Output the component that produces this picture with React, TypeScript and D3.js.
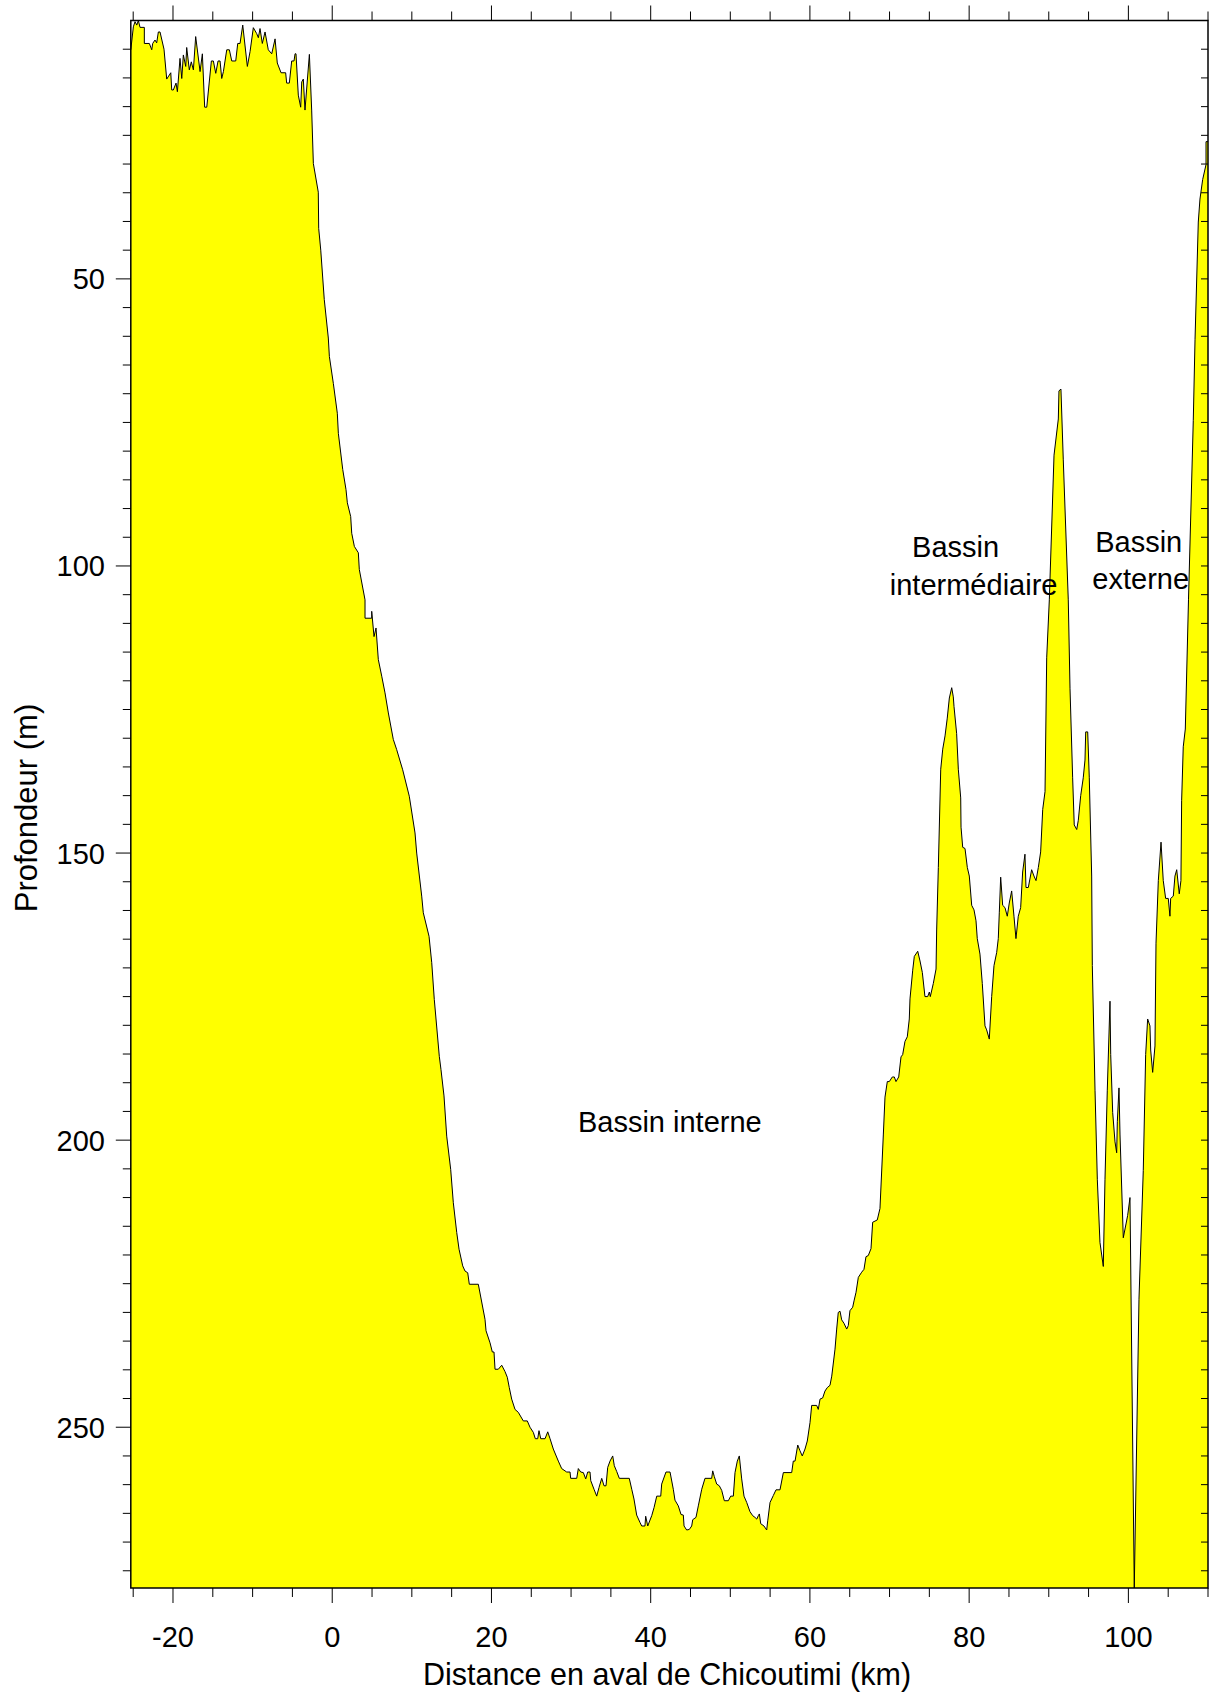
import React from "react";
import * as d3 from "d3";

// Depth profile of the Saguenay fjord: distance (km) downstream of Chicoutimi and depth (m)
const profileKm: number[] = [
  -25.3, -24.98, -24.77, -24.55, -24.35, -24.14, -23.6, -23.6, -22.97, -22.67,
  -22.55, -22.26, -22.05, -21.84, -21.63, -21.13, -20.79, -20.28, -20.16, -19.96,
  -19.62, -19.45, -19.12, -18.9, -18.7, -18.4, -18.28, -17.95, -17.7, -17.44,
  -17.15, -16.6, -16.31, -16.02, -15.76, -15.18, -14.93, -14.63, -14.34, -14.09,
  -13.88, -13.67, -13.25, -12.92, -12.62, -12.12, -11.87, -11.58, -11.24, -10.66,
  -10.32, -9.91, -9.48, -9.28, -9.07, -8.78, -8.44, -8.03, -7.6, -7.18,
  -6.9, -6.43, -5.85, -5.72, -5.39, -5.09, -4.8, -4.67, -4.55, -4.26,
  -3.96, -3.83, -3.63, -3.42, -2.87, -2.58, -2.37, -1.75, -1.7, -1.44,
  -1.0, -0.49, -0.36, 0.14, 0.64, 0.77, 1.32, 1.73, 1.9, 2.32,
  2.45, 2.78, 3.28, 3.4, 4.12, 4.12, 4.96, 4.96, 5.25, 5.5,
  5.79, 6.22, 6.63, 7.05, 7.67, 8.1, 8.85, 9.68, 10.4, 10.61,
  11.24, 11.44, 12.16, 12.5, 12.82, 13.45, 13.66, 14.04, 14.38, 14.88,
  15.21, 15.64, 15.93, 16.39, 16.68, 17.02, 17.22, 18.35, 19.19, 19.32,
  19.82, 20.11, 20.32, 20.45, 20.86, 21.29, 21.7, 21.99, 22.24, 22.54,
  22.96, 23.37, 24.0, 24.5, 24.84, 25.26, 25.51, 25.81, 25.97, 26.19,
  26.73, 27.07, 27.36, 27.77, 28.4, 28.82, 29.45, 29.87, 29.95, 30.71,
  30.91, 31.21, 31.54, 31.84, 32.09, 32.38, 32.47, 32.88, 33.22, 33.51,
  33.85, 34.14, 34.39, 34.6, 34.89, 35.23, 35.43, 35.73, 36.06, 37.31,
  37.62, 37.9, 38.24, 38.66, 38.87, 39.28, 39.37, 39.63, 40.13, 40.42,
  40.76, 41.26, 41.38, 41.92, 42.43, 42.84, 43.05, 43.47, 43.81, 44.1,
  44.19, 44.52, 44.85, 45.15, 45.28, 45.69, 45.98, 46.41, 46.82, 47.66,
  47.79, 47.99, 48.29, 48.62, 48.92, 49.25, 49.75, 50.05, 50.38, 50.59,
  50.88, 51.13, 51.43, 51.72, 52.06, 52.47, 52.81, 53.1, 53.32, 53.52,
  53.65, 53.82, 54.23, 54.57, 54.7, 54.99, 55.4, 55.74, 56.24, 56.66,
  57.71, 57.91, 58.13, 58.47, 58.75, 59.04, 59.38, 59.67, 60.01, 60.22,
  60.85, 61.05, 61.27, 61.6, 61.89, 62.18, 62.52, 62.74, 63.15, 63.36,
  63.56, 63.78, 63.99, 64.28, 64.62, 64.82, 65.03, 65.37, 65.54, 65.79,
  66.08, 66.5, 66.79, 67.04, 67.33, 67.67, 67.88, 68.46, 68.8, 69.22,
  69.43, 69.72, 69.97, 70.35, 70.6, 70.81, 71.15, 71.44, 71.65, 71.94,
  72.23, 72.48, 72.57, 72.91, 73.11, 73.54, 73.83, 74.12, 74.45, 74.79,
  75.0, 75.12, 75.5, 75.84, 75.92, 76.13, 76.43, 76.68, 76.97, 77.25,
  77.51, 77.81, 78.01, 78.1, 78.43, 78.64, 78.94, 78.98, 79.19, 79.48,
  79.77, 80.02, 80.32, 80.61, 80.86, 81.02, 81.36, 81.65, 81.99, 82.2,
  82.53, 82.83, 83.12, 83.46, 83.66, 83.79, 83.96, 84.21, 84.5, 84.79,
  85.04, 85.34, 85.63, 85.88, 86.17, 86.47, 86.72, 87.01, 87.14, 87.43,
  87.85, 88.14, 88.4, 88.69, 88.98, 89.24, 89.53, 89.74, 90.07, 90.66,
  91.2, 91.28, 91.53, 91.82, 92.45, 92.67, 93.0, 93.2, 93.51, 93.71,
  94.01, 94.33, 94.55, 94.64, 94.89, 95.09, 95.39, 95.47, 95.81, 96.1,
  96.43, 96.85, 97.06, 97.35, 97.69, 97.78, 98.03, 98.32, 98.53, 98.61,
  98.82, 98.95, 99.36, 99.7, 99.91, 100.2, 100.74, 101.33, 101.87, 102.17,
  102.42, 102.71, 102.8, 103.05, 103.34, 103.47, 103.76, 104.1, 104.38, 104.68,
  105.01, 105.22, 105.31, 105.64, 105.85, 106.07, 106.39, 106.6, 106.69, 106.89,
  107.15, 107.55, 108.15, 108.37, 108.78, 108.99, 109.33, 109.75, 109.75, 110.0,
];

const profileDepth: number[] = [
  10.1, 6.1, 5.2, 5.8, 5.0, 6.2, 6.2, 9.0, 9.0, 10.1,
  9.0, 8.4, 8.9, 7.0, 7.0, 10.0, 15.2, 14.1, 17.1, 17.1,
  15.9, 17.4, 11.6, 15.1, 11.0, 13.0, 9.7, 13.6, 12.2, 13.6,
  7.8, 13.9, 10.8, 20.1, 20.1, 12.05, 12.05, 14.2, 12.05, 12.05,
  15.1, 13.9, 10.1, 10.1, 12.05, 12.05, 9.0, 9.0, 5.8, 13.0,
  10.4, 6.25, 7.3, 8.0, 6.4, 9.0, 7.0, 10.1, 10.8, 8.2,
  12.4, 14.1, 14.1, 15.9, 15.9, 12.05, 12.05, 10.8, 10.8, 18.0,
  20.1, 15.7, 15.2, 20.6, 10.9, 20.6, 29.9, 34.9, 41.2, 45.0,
  53.6, 60.3, 63.5, 68.2, 73.4, 76.9, 83.2, 86.7, 89.0, 91.4,
  94.3, 96.6, 97.7, 100.6, 105.9, 109.1, 109.1, 107.9, 112.3, 110.8,
  116.3, 119.2, 122.1, 125.6, 130.2, 132.0, 135.5, 140.1, 146.5, 150.0,
  157.5, 160.4, 164.5, 169.1, 175.5, 185.4, 187.7, 192.3, 199.3, 205.1,
  210.9, 216.1, 219.0, 221.9, 222.8, 223.1, 225.1, 225.1, 231.2, 233.2,
  235.3, 236.9, 236.9, 239.9, 239.9, 239.2, 240.3, 241.3, 243.1, 245.1,
  246.9, 247.4, 248.9, 248.9, 250.0, 250.9, 252.0, 252.0, 250.6, 252.0,
  252.0, 250.8, 252.0, 253.8, 255.9, 257.2, 257.8, 257.8, 258.9, 258.9,
  257.2, 257.8, 257.9, 259.0, 257.8, 257.8, 259.3, 260.8, 262.0, 260.5,
  258.9, 260.2, 260.2, 257.0, 255.9, 255.0, 256.7, 257.7, 258.9, 258.9,
  260.8, 262.5, 265.3, 266.6, 267.2, 267.2, 265.5, 267.2, 265.4, 264.0,
  262.0, 262.0, 259.9, 257.8, 257.8, 260.8, 262.7, 263.7, 265.2, 265.3,
  267.2, 267.9, 267.8, 267.2, 266.1, 265.7, 263.7, 260.8, 258.9, 258.9,
  257.6, 258.6, 259.9, 260.2, 261.0, 262.8, 262.8, 262.0, 262.0, 257.9,
  255.9, 255.0, 259.0, 262.0, 263.1, 264.7, 265.4, 265.7, 266.0, 265.4,
  265.1, 266.8, 267.2, 267.9, 266.3, 263.1, 261.9, 260.9, 260.9, 257.9,
  257.9, 255.9, 255.9, 253.1, 254.1, 255.0, 253.8, 252.4, 249.2, 246.2,
  246.2, 246.9, 245.1, 244.9, 243.7, 243.1, 242.7, 241.1, 236.4, 232.9,
  230.0, 229.8, 231.3, 231.9, 232.9, 232.3, 229.7, 229.1, 228.0, 226.5,
  223.9, 223.0, 222.5, 220.3, 220.1, 218.9, 214.3, 213.9, 211.9, 199.1,
  192.5, 189.8, 189.8, 189.0, 189.0, 189.8, 189.0, 185.5, 185.1, 182.8,
  182.0, 178.9, 175.4, 170.4, 168.0, 167.1, 168.8, 170.8, 175.0, 175.0,
  174.2, 175.0, 172.7, 170.2, 163.4, 152.5, 135.4, 131.9, 129.6, 126.5,
  123.0, 121.2, 122.8, 124.5, 129.2, 135.4, 140.4, 145.5, 149.0, 149.2,
  152.5, 154.0, 159.1, 159.9, 161.8, 164.9, 167.6, 172.7, 180.1, 180.8,
  182.4, 175.0, 169.6, 167.3, 164.9, 160.3, 154.2, 159.1, 159.5, 161.0,
  158.7, 156.6, 161.0, 164.9, 161.0, 159.5, 153.3, 150.2, 156.0, 156.0,
  152.9, 154.0, 154.8, 152.5, 149.8, 142.4, 139.3, 116.0, 105.9, 80.7,
  74.4, 69.5, 69.2, 81.4, 105.9, 121.4, 136.9, 145.1, 145.9, 144.3,
  140.0, 136.9, 133.8, 128.9, 128.9, 136.9, 154.0, 169.6, 191.3, 206.9,
  217.8, 222.0, 206.9, 191.3, 175.8, 185.1, 195.2, 200.3, 202.2, 196.8,
  190.9, 199.1, 217.0, 214.6, 213.1, 210.0, 278.0, 227.7, 205.3, 185.1,
  178.9, 180.1, 184.3, 188.2, 183.6, 165.7, 154.8, 148.1, 154.8, 157.9,
  157.9, 161.0, 157.9, 157.5, 154.0, 152.9, 157.1, 154.8, 140.8, 131.5,
  128.4, 105.9, 74.7, 60.6, 40.1, 36.1, 32.7, 30.1, 26.1, 26.1,
];

const xTickValues: number[] = d3.range(-25, 110.001, 5);
const xLabelValues: number[] = [-20, 0, 20, 40, 60, 80, 100];
const yTickValues: number[] = d3.range(10, 275.001, 5);
const yLabelValues: number[] = [50, 100, 150, 200, 250];

const basinNames: string[][] = [["Bassin interne"], ["Bassin", "intermédiaire"], ["Bassin", "externe"]];
const basinKm: number[] = [42.4, 78.3, 101.3];
const basinDepth: number[] = [198.5, 98.5, 97.5];

const xTitle = "Distance en aval de Chicoutimi (km)";
const yTitle = "Profondeur (m)";

const W = 1214;
const H = 1695;
const left = 130.8;
const right = 1208;
const top = 20.5;
const bottom = 1588;
const FONT = "'Liberation Sans', Arial, sans-serif";

export default function App() {
  const x = d3.scaleLinear().domain([-25.3, 110]).range([left, right]);
  const y = d3.scaleLinear().domain([5, 278]).range([top, bottom]);

  const pts: [number, number][] = profileKm.map((k, i) => [k, profileDepth[i]]);
  const area = d3
    .area<[number, number]>()
    .x((d) => x(d[0]))
    .y0(() => y(278))
    .y1((d) => y(d[1]));
  const line = d3
    .line<[number, number]>()
    .x((d) => x(d[0]))
    .y((d) => y(d[1]));

  return (
    <div style={{ position: "absolute", left: 0, top: 0 }}>
      <svg width={W} height={H} style={{ display: "block", background: "#fff" }}>
        <defs>
          <clipPath id="plotClip">
            <rect x={left} y={top} width={right - left} height={bottom - top} />
          </clipPath>
        </defs>
        <g clipPath="url(#plotClip)">
          <path d={area(pts) || ""} fill="#ffff00" stroke="none" />
          <path d={line(pts) || ""} fill="none" stroke="#000" strokeWidth={1} strokeLinejoin="miter" />
        </g>
        {/* frame */}
        <rect x={left} y={top} width={right - left} height={bottom - top} fill="none" stroke="#000" strokeWidth={1.5} />
        {/* bottom & top ticks */}
        {xTickValues.map((v) => {
          const major = v % 20 === 0;
          const len = major ? 15 : 9;
          const px = x(v);
          return (
            <g key={"xt" + v}>
              <line x1={px} x2={px} y1={bottom} y2={bottom + len} stroke="#000" strokeWidth={1} />
              <line x1={px} x2={px} y1={top} y2={top - len} stroke="#000" strokeWidth={1} />
            </g>
          );
        })}
        {/* left & right ticks */}
        {yTickValues.map((v) => {
          const major = v % 50 === 0;
          const len = major ? 15 : 8;
          const py = y(v);
          return (
            <g key={"yt" + v}>
              <line x1={left} x2={left - len} y1={py} y2={py} stroke="#000" strokeWidth={1} />
              <line x1={right} x2={right - 7} y1={py} y2={py} stroke="#000" strokeWidth={1} />
            </g>
          );
        })}
        {xLabelValues.map((v) => (
          <text key={"xl" + v} x={x(v)} y={1647} textAnchor="middle" fontFamily={FONT} fontSize={29} fill="#000">
            {v}
          </text>
        ))}
        {yLabelValues.map((v) => (
          <text key={"yl" + v} x={105} y={y(v) + 10.5} textAnchor="end" fontFamily={FONT} fontSize={29} fill="#000">
            {v}
          </text>
        ))}
        <text x={667} y={1685} textAnchor="middle" fontFamily={FONT} fontSize={30.5} fill="#000">
          {xTitle}
        </text>
        <text
          transform={`translate(37, 808) rotate(-90)`}
          textAnchor="middle"
          fontFamily={FONT}
          fontSize={31}
          fill="#000"
        >
          {yTitle}
        </text>
        {basinNames.map((lines, i) => (
          <text
            key={"b" + i}
            x={x(basinKm[i])}
            y={y(basinDepth[i])}
            textAnchor="middle"
            fontFamily={FONT}
            fontSize={29}
            fill="#000"
          >
            {lines.map((t, j) => (
              <tspan key={j} x={x(basinKm[i]) + (j === 1 ? (i === 1 ? 18 : 2) : 0)} dy={j === 0 ? 0 : 37.5}>
                {t}
              </tspan>
            ))}
          </text>
        ))}
      </svg>
    </div>
  );
}
